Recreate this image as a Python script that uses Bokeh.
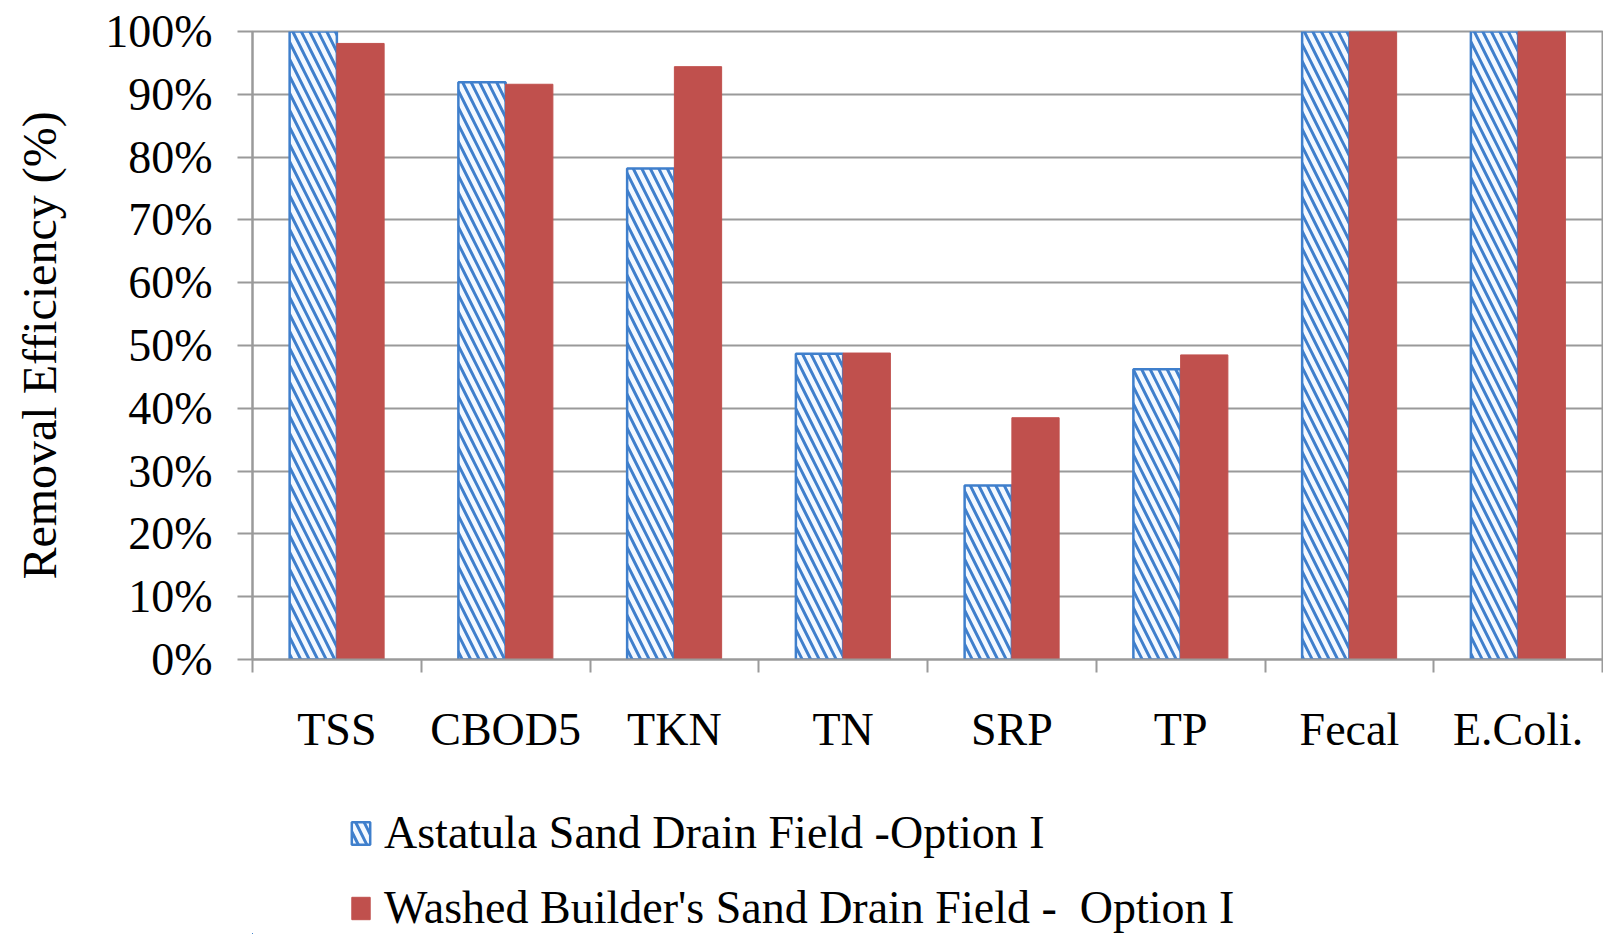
from bokeh.plotting import figure
from bokeh.layouts import column
from bokeh.models import (ColumnDataSource, Range1d, FixedTicker, PrintfTickFormatter,
                          CustomJSTickFormatter, Legend, LegendItem)
from bokeh.transform import dodge
from bokeh.embed import file_html
from bokeh.resources import INLINE

# ---- data ----
categories = ["TSS", "CBOD5", "TKN", "TN", "SRP", "TP", "Fecal", "E.Coli."]
astatula = [100.0, 91.9, 78.2, 48.7, 27.7, 46.2, 100.0, 100.0]
washed = [98.1, 91.6, 94.4, 48.8, 38.5, 48.5, 100.0, 100.0]
y_ticks = [0, 10, 20, 30, 40, 50, 60, 70, 80, 90, 100]
series_names = ["Astatula Sand Drain Field -Option I",
                "Washed Builder's Sand Drain Field -  Option I"]

FONT = "Liberation Serif"
GRID = "#9a9a9a"
BLUE = "#3f7fcc"
RED = "#c0504d"
TOTAL_W = 1603

n = len(categories)
centers = [i + 0.5 for i in range(n)]
bounds = list(range(n + 1))

src = ColumnDataSource(dict(x=centers, cat=categories, a=astatula, w=washed))

blue_style = dict(fill_color="#f4f9ff", line_color=BLUE, line_width=2.5,
                  hatch_pattern="left_diagonal_line", hatch_color=BLUE, hatch_weight=3,
                  hatch_scale=17)
red_style = dict(fill_color=RED, line_color=RED, line_width=1)

p = figure(frame_width=1350, frame_height=628, min_border_left=252, min_border_right=1,
           min_border_top=31, min_border_bottom=109,
           x_range=Range1d(0, n), y_range=Range1d(0, 100),
           output_backend="svg", toolbar_location=None)
p.background_fill_color = "white"
p.border_fill_color = "white"
p.outline_line_color = GRID
p.outline_line_width = 2

bw = 0.28
r1 = p.vbar(x=dodge("x", -bw / 2, range=p.x_range), top="a", width=bw, source=src,
            **blue_style)
r2 = p.vbar(x=dodge("x", bw / 2, range=p.x_range), top="w", width=bw, source=src,
            **red_style)

# grid
p.xgrid.visible = False
p.ygrid.ticker = FixedTicker(ticks=y_ticks)
p.ygrid.grid_line_color = GRID
p.ygrid.grid_line_width = 2

# y axis
ya = p.yaxis[0]
ya.ticker = FixedTicker(ticks=y_ticks, minor_ticks=[])
ya.formatter = PrintfTickFormatter(format="%d%%")
ya.axis_line_color = GRID
ya.axis_line_width = 2
ya.major_tick_line_color = GRID
ya.major_tick_line_width = 2
ya.major_tick_out = 15
ya.major_tick_in = 0
ya.minor_tick_line_color = None
ya.major_label_standoff = 25
ya.major_label_text_font = FONT
ya.major_label_text_font_size = "46px"
ya.major_label_text_color = "black"
ya.axis_label = "Removal Efficiency (%)"
ya.axis_label_text_font = FONT
ya.axis_label_text_font_size = "48px"
ya.axis_label_text_font_style = "normal"
ya.axis_label_text_color = "black"
ya.axis_label_standoff = 36

# x axis
xa = p.xaxis[0]
xa.ticker = FixedTicker(ticks=centers, minor_ticks=bounds)
xa.formatter = CustomJSTickFormatter(args=dict(cats=categories),
                                     code="return cats[Math.floor(tick)];")
xa.axis_line_color = GRID
xa.axis_line_width = 2
xa.major_tick_line_color = None
xa.major_tick_out = 0
xa.major_tick_in = 0
xa.minor_tick_line_color = GRID
xa.minor_tick_line_width = 2
xa.minor_tick_out = 13
xa.minor_tick_in = 0
xa.major_label_standoff = 31
xa.major_label_text_font = FONT
xa.major_label_text_font_size = "46px"
xa.major_label_text_color = "black"

# ---- legend strip below the chart ----
# the same bars are drawn here with ranges far away from the data, so only the legend shows
lg = figure(width=TOTAL_W, height=166, min_border=0,
            x_range=Range1d(1000, 1001), y_range=Range1d(1000, 1001),
            x_axis_location=None, y_axis_location=None,
            output_backend="svg", toolbar_location=None)
lg.outline_line_color = None
lg.grid.visible = False
lg.background_fill_color = "white"
lg.border_fill_color = "white"
l1 = lg.vbar(x=dodge("x", -bw / 2, range=lg.x_range), top="a", width=bw, source=src,
             **blue_style)
l2 = lg.vbar(x=dodge("x", bw / 2, range=lg.x_range), top="w", width=bw, source=src,
             **red_style)

legend = Legend(items=[LegendItem(label=series_names[0], renderers=[l1]),
                       LegendItem(label=series_names[1], renderers=[l2])],
                orientation="vertical", location=(97, 0))
legend.label_text_font = FONT
legend.label_text_font_size = "46px"
legend.label_text_color = "black"
legend.glyph_width = 23
legend.glyph_height = 28
legend.label_height = 40
legend.label_standoff = 12
legend.spacing = 22
legend.padding = 0
legend.margin = 0
legend.border_line_color = None
legend.background_fill_alpha = 0
lg.add_layout(legend, "center")

layout = column(p, lg, spacing=0)
open("out.html", "w").write(file_html(layout, INLINE))
